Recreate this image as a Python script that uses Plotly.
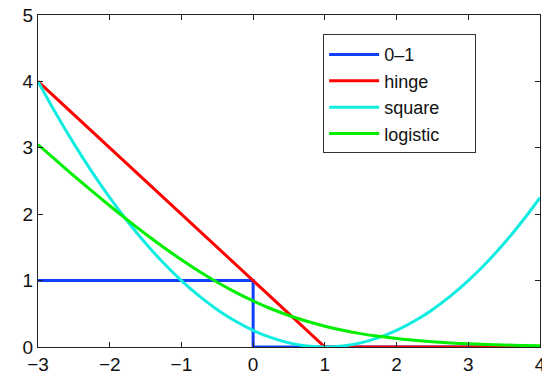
import plotly.graph_objects as go

# margin values z = y*f(x)
x = [-3, -2.75, -2.5, -2.25, -2, -1.75, -1.5, -1.25, -1, -0.75, -0.5, -0.25, 0,
     0.25, 0.5, 0.75, 1, 1.25, 1.5, 1.75, 2, 2.25, 2.5, 2.75, 3, 3.25, 3.5, 3.75, 4]

zero_one_x = [-3, 0, 0, 4]
zero_one_y = [1, 1, 0, 0]

hinge_x = [-3, 1, 4]
hinge_y = [4, 0, 0]

square_y = [4.0, 3.5156, 3.0625, 2.6406, 2.25, 1.8906, 1.5625, 1.2656, 1.0, 0.7656,
            0.5625, 0.3906, 0.25, 0.1406, 0.0625, 0.0156, 0.0, 0.0156, 0.0625, 0.1406,
            0.25, 0.3906, 0.5625, 0.7656, 1.0, 1.2656, 1.5625, 1.8906, 2.25]

logistic_y = [3.0486, 2.8129, 2.5789, 2.3503, 2.1269, 1.9102, 1.7014, 1.5019, 1.3133,
              1.1369, 0.9741, 0.8259, 0.6931, 0.5759, 0.4741, 0.3869, 0.3133, 0.2519,
              0.2014, 0.1602, 0.1269, 0.1002, 0.0789, 0.0619, 0.0486, 0.0380, 0.0298,
              0.0233, 0.0181]

x_ticks = [-3, -2, -1, 0, 1, 2, 3, 4]
x_tick_labels = ["\u22123", "\u22122", "\u22121", "0", "1", "2", "3", "4"]
y_ticks = [0, 1, 2, 3, 4, 5]

PAD = "\u00a0\u00a0\u00a0\u00a0\u00a0\u00a0"

fig = go.Figure()
fig.add_trace(go.Scatter(x=zero_one_x, y=zero_one_y, mode="lines", name="0\u20131" + PAD,
                         legendgroup="a", line=dict(color="#1040ff", width=3)))
fig.add_trace(go.Scatter(x=hinge_x, y=hinge_y, mode="lines", name="hinge" + PAD,
                         legendgroup="b", line=dict(color="#ff0000", width=3)))
fig.add_trace(go.Scatter(x=x, y=square_y, mode="lines", name="square" + PAD,
                         legendgroup="c", line=dict(color="#10ece0", width=3, shape="spline")))
fig.add_trace(go.Scatter(x=x, y=logistic_y, mode="lines", name="logistic" + PAD,
                         legendgroup="d", line=dict(color="#00ee00", width=3, shape="spline")))

axis_common = dict(showgrid=False, zeroline=False, showline=True, linecolor="#222222",
                   linewidth=1, mirror="ticks", ticks="inside", ticklen=5,
                   tickcolor="#222222", automargin=False, ticklabeloverflow="allow",
                   tickfont=dict(size=19, color="#111111", family="Liberation Sans, Arial"))

fig.update_xaxes(range=[-3, 4], tickvals=x_ticks, ticktext=x_tick_labels, **axis_common)
fig.update_yaxes(range=[0, 5], tickvals=y_ticks, **axis_common)

fig.update_layout(
    width=542, height=374,
    margin=dict(l=38, r=2, t=15, b=27),
    plot_bgcolor="white", paper_bgcolor="white",
    font=dict(family="Liberation Sans, Arial", size=19, color="#111111"),
    legend=dict(x=0.568, y=0.943, xanchor="left", yanchor="top",
                bgcolor="white", bordercolor="#333333", borderwidth=1,
                font=dict(size=18), tracegroupgap=0, traceorder="grouped", itemwidth=50,
                title=dict(text="\u00a0", font=dict(size=1))),
    showlegend=True,
)

fig.write_html("out.html", config={"displayModeBar": False},
               post_script="document.body.style.margin='0px';")
